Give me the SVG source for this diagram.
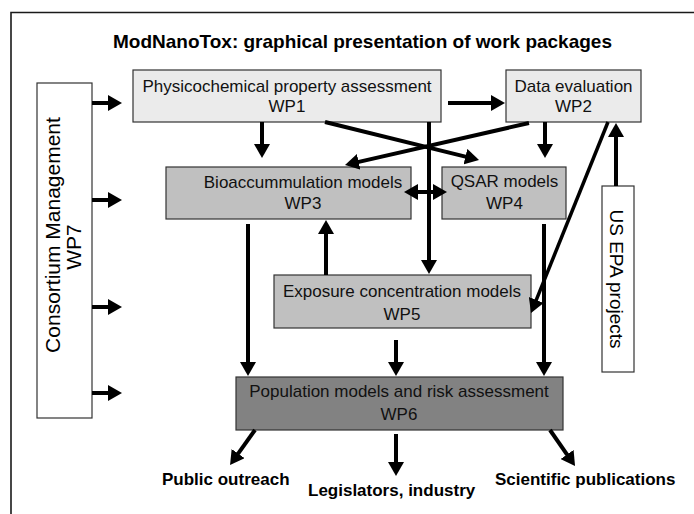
<svg xmlns="http://www.w3.org/2000/svg" width="694" height="514" viewBox="0 0 694 514">
<style>
  .frame{fill:none;stroke:#1a1a1a;stroke-width:1.6}
  .box{stroke:#333;stroke-width:1.2}
  .light{fill:#ebebeb}
  .mid{fill:#c0c0c0}
  .dark{fill:#828282}
  .white{fill:#fff}
  .t{font-family:"Liberation Sans",Arial,sans-serif;font-size:17px;fill:#111;text-anchor:middle}
  .title{font-family:"Liberation Sans",Arial,sans-serif;font-size:19px;font-weight:bold;fill:#000;text-anchor:middle}
  .out{font-family:"Liberation Sans",Arial,sans-serif;font-size:17px;font-weight:bold;fill:#000}
  .side{font-family:"Liberation Sans",Arial,sans-serif;fill:#000;text-anchor:middle}
  .a{fill:none;stroke:#000;stroke-width:4;marker-end:url(#ah)}
  .ad{fill:none;stroke:#000;stroke-width:3.5;marker-end:url(#ah)}
</style>
<defs>
  <marker id="ah" viewBox="0 0 14 16" markerWidth="14" markerHeight="16" refX="1" refY="8" orient="auto-start-reverse" markerUnits="userSpaceOnUse">
    <path d="M0,0 L14,8 L0,16 z" fill="#000"/>
  </marker>
</defs>
<rect width="694" height="514" fill="#fff"/>
<path class="frame" d="M11,514 V12.5 H694"/>
<text class="title" x="362.5" y="48">ModNanoTox: graphical presentation of work packages</text>

<g id="wp1"><rect class="box light" x="133" y="70" width="308" height="52"/>
  <text class="t" x="287" y="92">Physicochemical property assessment</text>
  <text class="t" x="287" y="112">WP1</text></g>
<g id="wp2"><rect class="box light" x="506" y="70" width="135" height="52"/>
  <text class="t" x="573.5" y="92">Data evaluation</text>
  <text class="t" x="573.5" y="112">WP2</text></g>
<g id="wp3"><rect class="box mid" x="166" y="167" width="245" height="52"/>
  <text class="t" x="303" y="188">Bioaccummulation models</text>
  <text class="t" x="303" y="209">WP3</text></g>
<g id="wp4"><rect class="box mid" x="442" y="167" width="124" height="52"/>
  <text class="t" x="504.5" y="187">QSAR models</text>
  <text class="t" x="504.5" y="209">WP4</text></g>
<g id="wp5"><rect class="box mid" x="274" y="275" width="257" height="53"/>
  <text class="t" x="402" y="297">Exposure concentration models</text>
  <text class="t" x="402" y="320">WP5</text></g>
<g id="wp6"><rect class="box dark" x="236" y="377" width="327" height="53"/>
  <text class="t" x="399" y="397">Population models and risk assessment</text>
  <text class="t" x="399" y="420">WP6</text></g>
<g id="wp7"><rect class="box white" x="37" y="83" width="55" height="335"/>
  <text class="side" font-size="21" transform="translate(60,235) rotate(-90)">Consortium Management</text>
  <text class="side" font-size="21" transform="translate(81,247) rotate(-90)">WP7</text></g>
<g id="usepa"><rect class="box white" x="602" y="186" width="32" height="186"/>
  <text class="side" font-size="19" transform="translate(610,279) rotate(90)">US EPA projects</text></g>

<g id="outputs">
  <text class="out" x="162" y="485">Public outreach</text>
  <text class="out" x="308" y="496">Legislators, industry</text>
  <text class="out" x="495" y="485">Scientific publications</text>
</g>

<g id="connectors">
  <line class="a" x1="92" y1="103" x2="109" y2="103"/>
  <line class="a" x1="92" y1="200" x2="109" y2="200"/>
  <line class="a" x1="92" y1="307" x2="109" y2="307"/>
  <line class="a" x1="92" y1="393" x2="109" y2="393"/>
  <line class="a" x1="262" y1="122" x2="262" y2="145"/>
  <line class="a" x1="448" y1="103" x2="492" y2="103"/>
  <line class="a" x1="325" y1="122" x2="466.4" y2="156.9"/>
  <line class="a" x1="529" y1="123" x2="357.7" y2="162.1"/>
  <line class="a" x1="545" y1="122" x2="545" y2="145"/>
  <line class="a" x1="417" y1="192" x2="434" y2="192" marker-start="url(#ah)"/>
  <line class="a" x1="429" y1="122" x2="429" y2="261"/>
  <line class="a" x1="248" y1="224" x2="248" y2="363"/>
  <line class="a" x1="326" y1="275" x2="326" y2="233"/>
  <line class="a" x1="544" y1="224" x2="544" y2="363"/>
  <line class="ad" x1="608" y1="122" x2="535.9" y2="300.9"/>
  <line class="a" x1="616" y1="186" x2="616" y2="136"/>
  <line class="a" x1="396" y1="340" x2="396" y2="363"/>
  <line class="a" x1="255" y1="430" x2="237.6" y2="454.4"/>
  <line class="a" x1="396" y1="434" x2="396" y2="463"/>
  <line class="a" x1="550" y1="430" x2="567.6" y2="455.3"/>
</g>
</svg>
